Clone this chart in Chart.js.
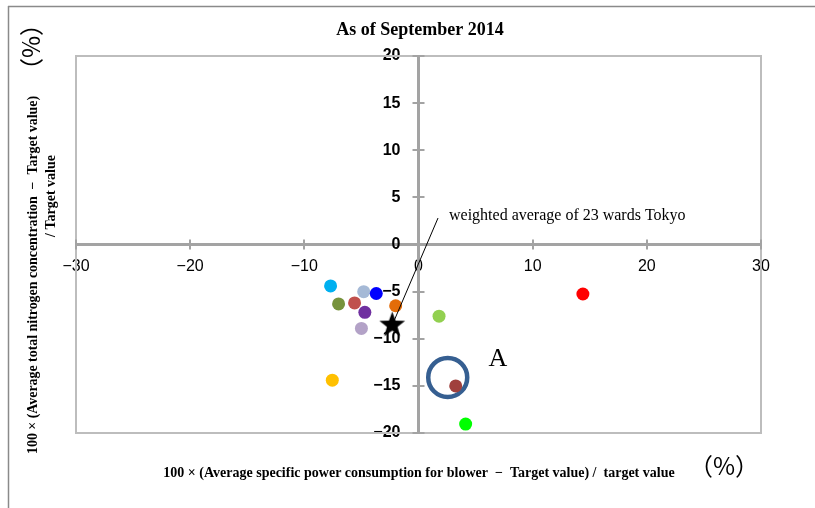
<!DOCTYPE html>
<html>
<head>
<meta charset="utf-8">
<script src="https://cdn.jsdelivr.net/npm/chart.js@4.4.1/dist/chart.umd.min.js"></script>
<style>
  html, body { margin: 0; padding: 0; background: #ffffff; }
  #wrap { width: 815px; height: 508px; position: relative; }
</style>
</head>
<body>
<div id="wrap"><canvas id="c" width="815" height="508"></canvas></div>
<script>
// ---- Data ----
const titleText = 'As of September 2014';
const xTickValues = [-30, -20, -10, 0, 10, 20, 30];
const yTickValues = [-20, -15, -10, -5, 0, 5, 10, 15, 20];

// Individual treatment plants (x: power consumption deviation %, y: nitrogen deviation %)
const plantX = [-7.7, -4.8, -3.7, -7.0, -5.6, -2.0, -4.7, -5.0, 1.8, 14.4, -7.55, 3.26, 4.13];
const plantY = [-4.4, -5.0, -5.2, -6.3, -6.2, -6.5, -7.2, -8.9, -7.6, -5.25, -14.4, -15.0, -19.05];
const plantColors = ['#00b0f0', '#a5b9d6', '#0000ff', '#77933c', '#c0504d', '#e36c09', '#7030a0',
                     '#b3a2c7', '#92d050', '#ff0000', '#ffc000', '#a0403d', '#00ff00'];

// Weighted average of 23 wards (star)
const averageX = [-2.3];
const averageY = [-8.55];
const averageLabel = 'weighted average of 23 wards Tokyo';

// Leader line from the star to the annotation text
const leaderX = [-2.3, 1.71];
const leaderY = [-8.55, 2.81];

// Highlight circle "A"
const highlightX = [2.56];
const highlightY = [-14.11];
const highlightLabel = 'A';

const yTitleLine1 = '100 × (Average total nitrogen concentration  −  Target value)';
const yTitleLine2 = '/ Target value';
const xTitle = '100 × (Average specific power consumption for blower  −  Target value) /  target value';
const unitLabel = '（%）';

// ---- Build chart ----
function toPoints(xs, ys) { return xs.map((x, i) => ({ x: x, y: ys[i] })); }

function makeStar(R, r) {
  const c = document.createElement('canvas');
  const size = Math.ceil(R * 2) + 2;
  c.width = size; c.height = size;
  const g = c.getContext('2d');
  g.translate(size / 2, size / 2);
  g.beginPath();
  for (let i = 0; i < 10; i++) {
    const rad = i % 2 === 0 ? R : r;
    const a = -Math.PI / 2 + i * Math.PI / 5;
    g.lineTo(rad * Math.cos(a), rad * Math.sin(a));
  }
  g.closePath();
  g.fillStyle = '#000000';
  g.fill();
  return c;
}
const starImg = makeStar(13.5, 5.6);

const AXIS_GRAY = '#a3a3a3';
const minusFmt = v => String(v).replace('-', '\u2212');

const decorPlugin = {
  id: 'decor',
  beforeDatasetsDraw(chart) {
    const ctx = chart.ctx;
    const a = chart.chartArea;
    ctx.save();
    ctx.strokeStyle = '#bdbdbd';
    ctx.lineWidth = 2;
    ctx.strokeRect(a.left, a.top, a.right - a.left, a.bottom - a.top);
    ctx.restore();
  },
  afterDraw(chart) {
    const ctx = chart.ctx;
    const xs = chart.scales.x, ys = chart.scales.y;
    const x0 = xs.getPixelForValue(0), y0 = ys.getPixelForValue(0);
    ctx.save();
    // crossing tick marks
    ctx.strokeStyle = AXIS_GRAY;
    ctx.lineWidth = 2;
    ctx.beginPath();
    xTickValues.forEach(v => {
      const px = Math.round(xs.getPixelForValue(v));
      ctx.moveTo(px, y0 - 5); ctx.lineTo(px, y0 + 5);
    });
    yTickValues.forEach(v => {
      const py = Math.round(ys.getPixelForValue(v));
      ctx.moveTo(x0 - 6, py); ctx.lineTo(x0 + 6, py);
    });
    ctx.stroke();

    // outer frame (top & left)
    ctx.strokeStyle = '#8a8a8a';
    ctx.lineWidth = 1.5;
    ctx.beginPath();
    ctx.moveTo(8, 6.5); ctx.lineTo(815, 6.5);
    ctx.moveTo(8.5, 6); ctx.lineTo(8.5, 508);
    ctx.stroke();

    ctx.fillStyle = '#000000';
    // title
    ctx.font = 'bold 18px "Liberation Serif", serif';
    ctx.textAlign = 'center';
    ctx.textBaseline = 'middle';
    ctx.fillText(titleText, 420, 30);

    // annotation text
    ctx.font = '16px "Liberation Serif", serif';
    ctx.textAlign = 'left';
    ctx.fillText(averageLabel, 449, 216);

    // A label
    ctx.font = '26px "Liberation Serif", serif';
    ctx.textAlign = 'center';
    ctx.fillText(highlightLabel, 498, 359);

    // x axis title
    ctx.font = 'bold 14px "Liberation Serif", serif';
    ctx.textAlign = 'center';
    ctx.fillText(xTitle, 419, 473, 522);
    ctx.font = '24px "Noto Sans CJK JP", sans-serif';
    ctx.fillText(unitLabel, 724, 466);

    // y axis title (rotated)
    ctx.save();
    ctx.translate(33, 275);
    ctx.rotate(-Math.PI / 2);
    ctx.font = 'bold 14px "Liberation Serif", serif';
    ctx.fillText(yTitleLine1, 0, 0, 358);
    ctx.restore();
    ctx.save();
    ctx.translate(51, 196);
    ctx.rotate(-Math.PI / 2);
    ctx.font = 'bold 14px "Liberation Serif", serif';
    ctx.fillText(yTitleLine2, 0, 0);
    ctx.restore();
    ctx.save();
    ctx.translate(31, 47);
    ctx.rotate(-Math.PI / 2);
    ctx.font = '24px "Noto Sans CJK JP", sans-serif';
    ctx.fillText(unitLabel, 0, 0);
    ctx.restore();

    ctx.restore();
  }
};

new Chart(document.getElementById('c'), {
  type: 'scatter',
  data: {
    datasets: [
      {
        label: 'average',
        data: toPoints(averageX, averageY),
        pointStyle: starImg,
        pointRadius: 13,
        pointHoverRadius: 13
      },
      {
        label: 'leader',
        data: toPoints(leaderX, leaderY),
        showLine: true,
        borderColor: '#000000',
        borderWidth: 1,
        pointRadius: 0,
        pointHoverRadius: 0
      },
      {
        label: 'plants',
        data: toPoints(plantX, plantY),
        pointBackgroundColor: plantColors,
        pointBorderWidth: 0,
        pointBorderColor: plantColors,
        pointRadius: 6.5,
        pointHoverRadius: 6.5
      },
      {
        label: 'highlight',
        data: toPoints(highlightX, highlightY),
        pointStyle: 'circle',
        pointRadius: 19.5,
        pointHoverRadius: 19.5,
        pointBackgroundColor: 'rgba(0,0,0,0)',
        pointBorderColor: '#365f91',
        pointBorderWidth: 4.5
      }
    ]
  },
  options: {
    responsive: false,
    devicePixelRatio: 1,
    animation: false,
    events: [],
    layout: { padding: { left: 76, right: 54, top: 56, bottom: 75 } },
    plugins: {
      legend: { display: false },
      tooltip: { enabled: false },
      title: { display: false }
    },
    scales: {
      x: {
        type: 'linear',
        min: -30, max: 30,
        position: { y: 0 },
        afterBuildTicks: s => { s.ticks = xTickValues.map(v => ({ value: v })); },
        grid: { display: false, drawTicks: false },
        border: { display: true, color: AXIS_GRAY, width: 3 },
        ticks: {
          padding: 12,
          color: '#000000',
          font: { family: '"Liberation Sans", Arial, sans-serif', size: 16 },
          callback: minusFmt,
          maxRotation: 0
        }
      },
      y: {
        type: 'linear',
        min: -20, max: 20,
        position: 'center',
        afterBuildTicks: s => { s.ticks = yTickValues.map(v => ({ value: v })); },
        grid: { display: false, drawTicks: false },
        border: { display: true, color: AXIS_GRAY, width: 3 },
        ticks: {
          padding: 18,
          color: '#000000',
          font: { family: '"Liberation Sans", Arial, sans-serif', size: 16, weight: 'bold' },
          callback: minusFmt
        }
      }
    }
  },
  plugins: [decorPlugin]
});
</script>
</body>
</html>
